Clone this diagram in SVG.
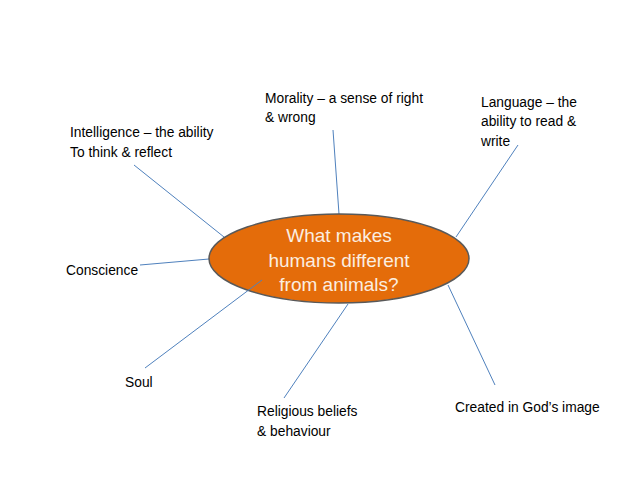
<svg xmlns="http://www.w3.org/2000/svg" width="638" height="479" viewBox="0 0 638 479">
<style>
.lbl{font-family:"Liberation Sans",Arial,sans-serif;font-size:13.8px;fill:#000}
.ctr{font-family:"Liberation Sans",Arial,sans-serif;font-size:19px;fill:#fbeee0;text-anchor:middle}
.ln{stroke:#4f81bd;stroke-width:1;fill:none}
</style>
<rect width="638" height="479" fill="#fff"/>
<g id="connectors">
<line class="ln" x1="134" y1="165" x2="224" y2="237"/>
<line class="ln" x1="333" y1="130" x2="339" y2="214"/>
<line class="ln" x1="518" y1="145" x2="456" y2="237"/>
<line class="ln" x1="140" y1="265" x2="209" y2="259"/>
<line class="ln" x1="448" y1="285" x2="495" y2="385"/>
<line class="ln" x1="348" y1="304" x2="284" y2="398"/>
</g>
<g id="center">
<ellipse cx="339" cy="258.5" rx="130" ry="44.5" fill="#e46c0a" stroke="#595959" stroke-width="1.5"/>
<text class="ctr" x="339" y="242">What makes</text>
<text class="ctr" x="339" y="267">humans different</text>
<text class="ctr" x="339" y="291">from animals?</text>
</g>
<g id="soul-connector">
<line class="ln" x1="145" y1="368" x2="262" y2="280"/>
</g>
<g id="morality"><text class="lbl" x="265" y="103">Morality – a sense of right</text><text class="lbl" x="265" y="122">&amp; wrong</text></g>
<g id="intelligence"><text class="lbl" x="70" y="137">Intelligence – the ability</text><text class="lbl" x="70" y="157">To think &amp; reflect</text></g>
<g id="language"><text class="lbl" x="481" y="107">Language – the</text><text class="lbl" x="481" y="126">ability to read &amp;</text><text class="lbl" x="481" y="146">write</text></g>
<g id="conscience"><text class="lbl" x="66" y="275">Conscience</text></g>
<g id="soul"><text class="lbl" x="125" y="387">Soul</text></g>
<g id="religious"><text class="lbl" x="257" y="416">Religious beliefs</text><text class="lbl" x="257" y="436">&amp; behaviour</text></g>
<g id="created"><text class="lbl" x="455" y="412">Created in God’s image</text></g>
</svg>
